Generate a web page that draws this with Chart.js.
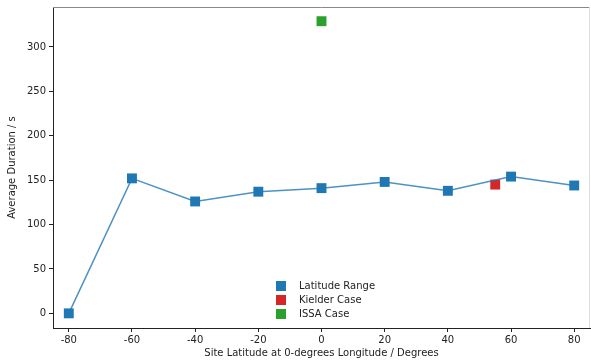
<!DOCTYPE html>
<html>
<head>
<meta charset="utf-8">
<script src="https://cdn.jsdelivr.net/npm/chart.js@4"></script>
<style>
  html, body { margin: 0; padding: 0; background: #fff; }
  #wrap { width: 591px; height: 361px; }
</style>
</head>
<body>
<div id="wrap"><canvas id="durationChart" width="591" height="361"></canvas></div>
<script>
// values
const latitudes = [-80, -60, -40, -20, 0, 20, 40, 60, 80];
const latitudeDurations = [0, 152, 126, 137, 141, 148, 138, 154, 144];
const kielderLatitude = [55];
const kielderDuration = [145];
const issaLatitude = [0];
const issaDuration = [329];
const xTicks = [-80, -60, -40, -20, 0, 20, 40, 60, 80];
const yTicks = [0, 50, 100, 150, 200, 250, 300];

const toPoints = (xs, ys) => xs.map((x, i) => ({ x: x, y: ys[i] }));

const FONT = 'DejaVu Sans';

// legend drawn inside the plot, like matplotlib's
const innerLegend = {
  id: 'innerLegend',
  afterDraw(chart) {
    const ctx = chart.ctx;
    const x = chart.chartArea.left + 228;
    let y = chart.chartArea.top + 279;
    ctx.save();
    ctx.font = '10px ' + FONT;
    ctx.textBaseline = 'middle';
    chart.data.datasets.forEach(ds => {
      ctx.fillStyle = ds.backgroundColor;
      ctx.fillRect(x - 5, y - 5, 10, 10);
      ctx.fillStyle = '#222';
      ctx.fillText(ds.label, x + 18, y);
      y += 14;
    });
    ctx.restore();
  }
};

const frame = {
  id: 'frame',
  afterDraw(chart) {
    const a = chart.chartArea;
    const ctx = chart.ctx;
    ctx.save();
    ctx.strokeStyle = '#888';
    ctx.lineWidth = 1;
    ctx.beginPath();
    ctx.moveTo(a.left, a.top + 0.5);
    ctx.lineTo(a.right, a.top + 0.5);
    ctx.stroke();
    ctx.strokeStyle = '#ddd';
    ctx.beginPath();
    ctx.moveTo(a.right - 0.5, a.top);
    ctx.lineTo(a.right - 0.5, a.bottom);
    ctx.stroke();
    ctx.restore();
  }
};

const ctx = document.getElementById('durationChart').getContext('2d');
new Chart(ctx, {
  type: 'scatter',
  data: {
    datasets: [
      {
        label: 'Latitude Range',
        data: toPoints(latitudes, latitudeDurations),
        showLine: true,
        borderColor: 'rgba(31,119,180,0.8)',
        borderWidth: 1.5,
        backgroundColor: '#1f77b4',
        pointStyle: 'rect',
        pointRadius: 7,
        pointBorderWidth: 0,
        pointBackgroundColor: '#1f77b4'
      },
      {
        label: 'Kielder Case',
        data: toPoints(kielderLatitude, kielderDuration),
        backgroundColor: '#d62728',
        pointStyle: 'rect',
        pointRadius: 7,
        pointBorderWidth: 0
      },
      {
        label: 'ISSA Case',
        data: toPoints(issaLatitude, issaDuration),
        backgroundColor: '#2ca02c',
        pointStyle: 'rect',
        pointRadius: 7,
        pointBorderWidth: 0
      }
    ]
  },
  options: {
    responsive: false,
    animation: false,
    layout: { autoPadding: false, padding: { top: 7, right: 1, left: 0, bottom: 0 } },
    plugins: {
      legend: { display: false },
      tooltip: { enabled: false }
    },
    scales: {
      x: {
        type: 'linear',
        min: -85,
        max: 85,
        afterBuildTicks: axis => { axis.ticks = xTicks.map(v => ({ value: v })); },
        afterFit: axis => { axis.height = 33; axis.paddingLeft = 0; axis.paddingRight = 0; },
        grid: { drawOnChartArea: false, drawTicks: true, tickLength: 4, color: '#222' },
        border: { display: true, color: '#222', width: 1 },
        ticks: { color: '#222', font: { family: FONT, size: 10 }, padding: 2, maxRotation: 0 },
        title: { display: true, text: 'Site Latitude at 0-degrees Longitude / Degrees', color: '#222', font: { family: FONT, size: 10 }, padding: { top: 2, bottom: 2 } }
      },
      y: {
        type: 'linear',
        min: -16.5,
        max: 345,
        afterBuildTicks: axis => { axis.ticks = yTicks.map(v => ({ value: v })); },
        afterFit: axis => { axis.width = 53; axis.paddingTop = 0; axis.paddingBottom = 0; },
        grid: { drawOnChartArea: false, drawTicks: true, tickLength: 4, color: '#222' },
        border: { display: true, color: '#222', width: 1 },
        ticks: { color: '#222', font: { family: FONT, size: 10 }, padding: 3 },
        title: { display: true, text: 'Average Duration / s', color: '#222', font: { family: FONT, size: 10 }, padding: { top: 6, bottom: 4 } }
      }
    }
  },
  plugins: [innerLegend, frame]
});
</script>
</body>
</html>
